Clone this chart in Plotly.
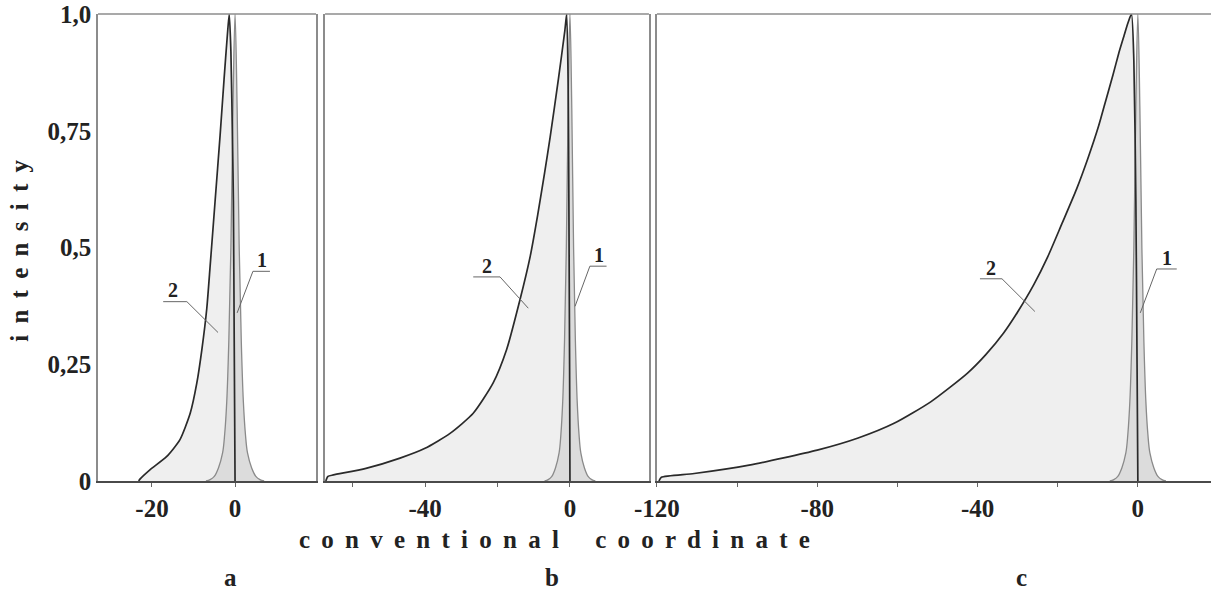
import plotly.graph_objects as go

# ---- data ----
# curve 1: narrow peak (same in all panels)
c1_x = [-7.0, -6.0, -5.0, -4.0, -3.0, -2.5, -2.0, -1.5, -1.0, -0.5, 0.0,
        0.5, 1.0, 1.5, 2.0, 2.5, 3.0, 4.0, 5.0, 6.0, 7.0]
c1_y = [0.0, 0.003, 0.01, 0.028, 0.06, 0.1, 0.17, 0.3, 0.5, 0.8, 1.0,
        0.8, 0.5, 0.3, 0.17, 0.1, 0.06, 0.028, 0.01, 0.003, 0.0]

# curve 2, panel a
a_x = [-23.2, -22.9, -20.5, -16.5, -13.3, -10.8, -9.2, -8.0, -6.8, -6.0, -4.8,
       -3.6, -2.65, -1.85, -1.4, -1.0, -0.6, -0.4, -0.2, 0.0]
a_y = [0.0, 0.004, 0.024, 0.052, 0.088, 0.145, 0.210, 0.281, 0.37, 0.46, 0.60,
       0.74, 0.86, 0.955, 1.0, 0.92, 0.72, 0.6, 0.3, 0.0]

# curve 2, panel b
b_x = [-67.4, -66.8, -65.3, -56.3, -46.9, -40.0, -33.1, -26.7, -21.2, -17.5,
       -13.8, -11.0, -8.9, -7.0, -5.5, -3.2, -1.4, -0.9, -0.5, -0.3, -0.1, 0.0]
b_y = [0.0, 0.01, 0.013, 0.027, 0.049, 0.070, 0.102, 0.145, 0.210, 0.281,
       0.388, 0.48, 0.57, 0.66, 0.735, 0.86, 0.965, 1.0, 0.85, 0.6, 0.25, 0.0]

# curve 2, panel c
c_x = [-119.5, -118.9, -110.7, -97.0, -80.0, -69.8, -60.7, -51.6, -42.5, -38.0,
       -33.5, -30.0, -26.0, -22.5, -19.0, -15.3, -12.5, -9.8, -8.0, -6.2, -4.8,
       -3.5, -2.5, -1.6, -1.0, -0.5, -0.2, 0.0]
c_y = [0.0, 0.008, 0.016, 0.034, 0.066, 0.092, 0.124, 0.170, 0.231, 0.27,
       0.317, 0.362, 0.42, 0.48, 0.55, 0.625, 0.69, 0.76, 0.815, 0.87, 0.915,
       0.952, 0.98, 1.0, 0.9, 0.6, 0.25, 0.0]

y_ticks = [0, 0.25, 0.5, 0.75, 1.0]
y_tick_text = ["0", "0,25", "0,5", "0,75", "1,0"]

panels = [
    dict(key="", x=a_x, y=a_y, rng=[-33.0, 19.5], dom=[0.0, 0.1959],
         ticks=[-20, 0], ticktext=["-20", "0"], letter="a", letter_x=0.1186,
         lab2=(-14.9, 0.41), ul2=(-17.3, -11.6, 0.384), d2=(-4.1, 0.318),
         lab1=(6.4, 0.474), ul1=(4.3, 8.4, 0.449), d1=(0.5, 0.36)),
    dict(key="2", x=b_x, y=b_y, rng=[-67.6, 21.8], dom=[0.204, 0.495],
         ticks=[-60, -40, -20, 0], ticktext=["", "-40", "", "0"], letter="b",
         letter_x=0.408,
         lab2=(-23.0, 0.46), ul2=(-26.7, -19.3, 0.437), d2=(-11.5, 0.37),
         lab1=(7.9, 0.485), ul1=(5.5, 10.1, 0.46), d1=(1.4, 0.374)),
    dict(key="3", x=c_x, y=c_y, rng=[-120.0, 18.25], dom=[0.5022, 1.0],
         ticks=[-120, -100, -80, -60, -40, -20, 0],
         ticktext=["-120", "", "-80", "", "-40", "", "0"], letter="c",
         letter_x=0.830,
         lab2=(-36.6, 0.456), ul2=(-39.4, -33.9, 0.433), d2=(-25.7, 0.363),
         lab1=(7.2, 0.478), ul1=(4.7, 9.7, 0.454), d1=(0.6, 0.36)),
]

FONT = "Liberation Serif"
fig = go.Figure()
shapes = []
annotations = []
layout = {}

for i, p in enumerate(panels):
    xa = "x" + p["key"]
    ya = "y" + p["key"]
    # curve 2 fill
    fig.add_trace(go.Scatter(x=p["x"], y=p["y"], xaxis=xa, yaxis=ya, mode="lines",
                             line=dict(width=0), fill="tozeroy",
                             fillcolor="#efefef", hoverinfo="skip", showlegend=False))
    # curve 1 filled narrow peak
    fig.add_trace(go.Scatter(x=c1_x, y=c1_y, xaxis=xa, yaxis=ya, mode="lines",
                             line=dict(color="#8a8a8a", width=1.3, shape="spline"),
                             fill="tozeroy", fillcolor="#dcdcdc",
                             showlegend=False))
    # curve 2 line
    fig.add_trace(go.Scatter(x=p["x"], y=p["y"], xaxis=xa, yaxis=ya, mode="lines",
                             line=dict(color="#2a2a2a", width=1.7, shape="spline",
                                       smoothing=0.6),
                             showlegend=False))

    xname = "xaxis" + p["key"]
    yname = "yaxis" + p["key"]
    layout[xname] = dict(domain=p["dom"], range=p["rng"], anchor=ya,
                         showgrid=False, zeroline=False,
                         showline=True, linecolor="#4a4a4a", linewidth=2.2,
                         ticks="outside", ticklen=4, tickcolor="#666", tickwidth=1.2,
                         tickvals=p["ticks"], ticktext=p["ticktext"],
                         tickfont=dict(family=FONT, size=25, color="#222", weight="bold"),
                         fixedrange=True)
    layout[yname] = dict(domain=[0, 1], range=[0, 1.0], anchor=xa,
                         showgrid=False, zeroline=False,
                         showline=True, linecolor="#8c8c8c", linewidth=1.6,
                         mirror=(i < 2), ticks="",
                         tickvals=y_ticks, ticktext=y_tick_text,
                         showticklabels=(i == 0),
                         tickfont=dict(family=FONT, size=25, color="#222", weight="bold"),
                         fixedrange=True)
    # top border of the box
    shapes.append(dict(type="line", xref=xa + " domain", yref=ya + " domain",
                       x0=0, x1=1, y0=1, y1=1, line=dict(color="#8c8c8c", width=1.6)))
    # leader for label 2
    x0, x1, yu = p["ul2"]
    shapes.append(dict(type="line", xref=xa, yref=ya, x0=x0, x1=x1, y0=yu, y1=yu,
                       line=dict(color="#666", width=1)))
    shapes.append(dict(type="line", xref=xa, yref=ya, x0=x1, x1=p["d2"][0],
                       y0=yu, y1=p["d2"][1], line=dict(color="#666", width=1)))
    # leader for label 1
    x0, x1, yu = p["ul1"]
    shapes.append(dict(type="line", xref=xa, yref=ya, x0=x0, x1=x1, y0=yu, y1=yu,
                       line=dict(color="#666", width=1)))
    shapes.append(dict(type="line", xref=xa, yref=ya, x0=x0, x1=p["d1"][0],
                       y0=yu, y1=p["d1"][1], line=dict(color="#666", width=1)))
    annotations.append(dict(x=p["lab2"][0], y=p["lab2"][1], xref=xa, yref=ya,
                            text="2", showarrow=False,
                            font=dict(family=FONT, size=20, color="#222", weight="bold")))
    annotations.append(dict(x=p["lab1"][0], y=p["lab1"][1], xref=xa, yref=ya,
                            text="1", showarrow=False,
                            font=dict(family=FONT, size=20, color="#222", weight="bold")))
    # panel letter
    annotations.append(dict(x=p["letter_x"], y=-0.206, xref="paper", yref="paper",
                            xanchor="center", yanchor="middle", text=p["letter"],
                            showarrow=False,
                            font=dict(family=FONT, size=25, color="#222", weight="bold")))

SP = " \u2009"   # letter spacing
y_title = SP.join("intensity")
x_title = SP.join("conventional") + "\u2003 \u2009" + SP.join("coordinate")

annotations.append(dict(x=-0.0701, y=0.493, xref="paper", yref="paper",
                        xanchor="center", yanchor="middle",
                        text=y_title, textangle=-90, showarrow=False,
                        font=dict(family=FONT, size=25, color="#222", weight="bold")))
annotations.append(dict(x=0.4106, y=-0.126, xref="paper", yref="paper",
                        xanchor="center", yanchor="middle",
                        text=x_title, showarrow=False,
                        font=dict(family=FONT, size=25, color="#222", weight="bold")))

fig.update_layout(width=1211, height=590,
                  margin=dict(l=98, r=0, t=14, b=109),
                  paper_bgcolor="white", plot_bgcolor="white",
                  shapes=shapes, annotations=annotations, **layout)

fig.write_html("out.html")
